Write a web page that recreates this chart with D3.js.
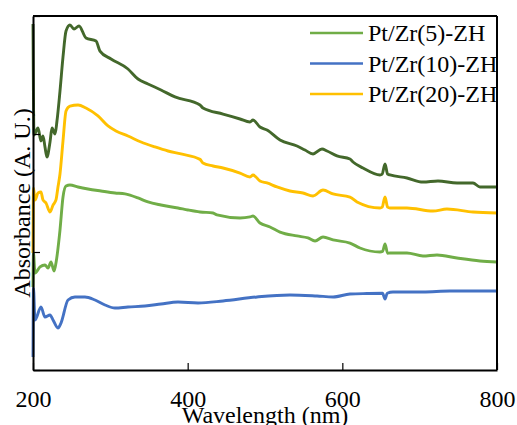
<!DOCTYPE html>
<html>
<head>
<meta charset="utf-8">
<script src="https://cdn.jsdelivr.net/npm/d3@7"></script>
<style>
  html, body { margin: 0; padding: 0; background: #fff; }
  svg { display: block; }
</style>
</head>
<body>
<div id="chart"></div>
<script>
// ---------- data (wavelength nm, absorbance a.u.) ----------
const seriesNames = ["Pt/Zr(5)-ZH", "Pt/Zr(10)-ZH", "Pt/Zr(20)-ZH"];
const xTickValues = [200, 400, 600, 800];
const yTickValues = [0, 1, 2, 3];

const green5 = [
  [200,0.703],[200.6,0.992],[202.6,0.822],[209.1,0.873],[215.5,0.890],[219.4,0.864],
  [223.3,0.915],[227.2,0.839],[229.7,0.907],[234.9,1.186],[238.8,1.466],[242.7,1.559],
  [247.8,1.568],[258.2,1.551],[271.1,1.534],[287.9,1.517],[306,1.500],[319,1.492],
  [335.8,1.458],[348.7,1.424],[365.5,1.398],[387.5,1.373],[400.4,1.356],[416,1.339],
  [432.8,1.331],[437.9,1.314],[467.7,1.288],[480.6,1.297],[484.5,1.305],[493.5,1.246],
  [506.5,1.212],[519.4,1.169],[541.4,1.136],[555.6,1.119],[564.7,1.093],[575,1.127],
  [588,1.102],[609.9,1.076],[622.8,1.034],[648.7,1.000],[652,1.005],[655.2,1.068],
  [658.5,0.990],[661.6,0.992],[683.6,0.992],[704.3,0.966],[722.4,0.975],[748.3,0.949],
  [778,0.924],[800,0.915]
];
const blue10 = [
  [200,0.110],[200.6,0.695],[202.6,0.424],[210.3,0.534],[215.5,0.449],[222,0.466],
  [225.9,0.424],[232.3,0.356],[236.2,0.398],[245.3,0.593],[254.3,0.619],[267.2,0.619],
  [280.2,0.593],[293.1,0.551],[306,0.525],[322.8,0.534],[344.8,0.542],[365.5,0.559],
  [387.5,0.576],[413.4,0.568],[445.7,0.585],[489.7,0.619],[532.3,0.636],[567.3,0.627],
  [588,0.619],[609.9,0.644],[631.9,0.648],[652,0.650],[655.2,0.602],[658,0.650],
  [665.5,0.661],[704.3,0.661],[739.2,0.669],[800,0.669]
];
const yellow20 = [
  [200,0.992],[200.6,1.542],[202.6,1.441],[206.5,1.500],[210.3,1.508],[212.9,1.441],
  [216.8,1.415],[222,1.339],[225.9,1.398],[229.7,1.441],[232.3,1.551],[234.9,1.661],
  [238.8,1.941],[242.7,2.195],[247.8,2.237],[258.2,2.246],[268.5,2.220],[284,2.153],
  [297,2.068],[307.3,2.025],[322.8,1.983],[339.7,1.932],[357.8,1.890],[374.6,1.856],
  [391.4,1.831],[416,1.785],[419.8,1.754],[432.8,1.729],[445.7,1.712],[467.7,1.669],
  [480.6,1.636],[484.5,1.653],[493.5,1.602],[502.6,1.585],[515.5,1.551],[532.3,1.517],
  [549.1,1.500],[562.1,1.475],[575,1.525],[588,1.492],[609.9,1.466],[619,1.424],
  [648.7,1.373],[651.5,1.380],[655.2,1.466],[658.5,1.380],[661.6,1.373],[683.6,1.373],
  [717.2,1.347],[735.3,1.364],[769,1.339],[800,1.331]
];
const darkGreen = [
  [200,2.932],[201.3,1.992],[206.5,2.051],[210.3,1.941],[212.9,1.983],[215.5,1.890],
  [218,1.805],[222,1.932],[224.6,2.051],[228.5,2.000],[231,2.110],[234.9,2.364],
  [238.8,2.653],[242.7,2.873],[247.8,2.924],[253,2.890],[259.5,2.915],[268.5,2.814],
  [281.5,2.788],[286.6,2.703],[300.9,2.636],[322.8,2.551],[335.8,2.466],[348.7,2.424],
  [365.5,2.373],[383.6,2.314],[416,2.246],[419.8,2.220],[445.7,2.169],[467.7,2.127],
  [480.6,2.102],[484.5,2.119],[493.5,2.059],[502.6,2.034],[519.4,1.949],[541.4,1.898],
  [551.7,1.864],[562.1,1.831],[573.7,1.873],[580.2,1.856],[593.1,1.814],[609.9,1.788],
  [613.8,1.763],[626.7,1.712],[648.7,1.653],[651.5,1.660],[655.2,1.746],[658.5,1.660],
  [661.6,1.653],[683.6,1.627],[704.3,1.593],[723.7,1.602],[748.3,1.585],[769,1.585],
  [778,1.551],[800,1.551]
];

// ---------- layout ----------
const W = 517, H = 425;
const mLeft = 33, mRight = 497, mTop = 16, mBottom = 370;
const FONT = "'Liberation Serif', 'Times New Roman', serif";

const svg = d3.select("#chart").append("svg")
  .attr("width", W).attr("height", H);

const x = d3.scaleLinear().domain([200, 800]).range([mLeft, mRight]);
const y = d3.scaleLinear().domain([0, 3]).range([mBottom, mTop]);

const line = d3.line().x(d => x(d[0])).y(d => y(d[1])).curve(d3.curveMonotoneX);

const series = [
  { data: green5,   color: "#70ad47" },
  { data: blue10,   color: "#4472c4" },
  { data: yellow20, color: "#ffc000" },
  { data: darkGreen, color: "#43682b" }
];

svg.selectAll("path.series").data(series).enter().append("path")
  .attr("class", "series")
  .attr("d", d => line(d.data))
  .attr("fill", "none")
  .attr("stroke", d => d.color)
  .attr("stroke-width", 2.9)
  .attr("stroke-linejoin", "round");

// ---------- axes ----------
const xAxis = d3.axisBottom(x).tickValues(xTickValues).tickSizeInner(-7).tickSizeOuter(0);
const gx = svg.append("g").attr("transform", `translate(0,${mBottom})`).call(xAxis);
gx.select(".domain").attr("stroke", "#000").attr("stroke-width", 2);
gx.selectAll(".tick line").attr("stroke", "#000").attr("stroke-width", 1.2);
gx.selectAll(".tick text").attr("font-family", FONT).attr("font-size", 24).attr("fill", "#000")
  .attr("dy", null).attr("y", 37);

const yAxis = d3.axisLeft(y).tickValues(yTickValues).tickSizeInner(-7).tickSizeOuter(0).tickFormat("");
const gy = svg.append("g").attr("transform", `translate(${mLeft},0)`).call(yAxis);
gy.select(".domain").attr("stroke", "#000").attr("stroke-width", 2);
gy.selectAll(".tick line").attr("stroke", "#000").attr("stroke-width", 1.2);

// top & right frame
svg.append("line").attr("x1", mLeft).attr("x2", mRight).attr("y1", mTop).attr("y2", mTop)
  .attr("stroke", "#000").attr("stroke-width", 2);
svg.append("line").attr("x1", mRight).attr("x2", mRight).attr("y1", mTop).attr("y2", mBottom)
  .attr("stroke", "#000").attr("stroke-width", 2);

// ---------- titles ----------
svg.append("text").attr("x", (mLeft + mRight) / 2).attr("y", 423)
  .attr("text-anchor", "middle").attr("font-family", FONT).attr("font-size", 24)
  .text("Wavelength (nm)");

svg.append("text").attr("transform", `translate(30,${(mTop + mBottom) / 2 + 10}) rotate(-90)`)
  .attr("text-anchor", "middle").attr("font-family", FONT).attr("font-size", 24)
  .text("Absorbance (A. U.)");

// ---------- legend ----------
const legend = svg.append("g");
seriesNames.forEach((name, i) => {
  const ly = 33 + i * 30.5;
  legend.append("line").attr("x1", 310).attr("x2", 363).attr("y1", ly).attr("y2", ly)
    .attr("stroke", series[i].color).attr("stroke-width", 2.6);
  legend.append("text").attr("x", 368).attr("y", ly + 8)
    .attr("font-family", FONT).attr("font-size", 24).attr("fill", "#000").text(name);
});
</script>
</body>
</html>
